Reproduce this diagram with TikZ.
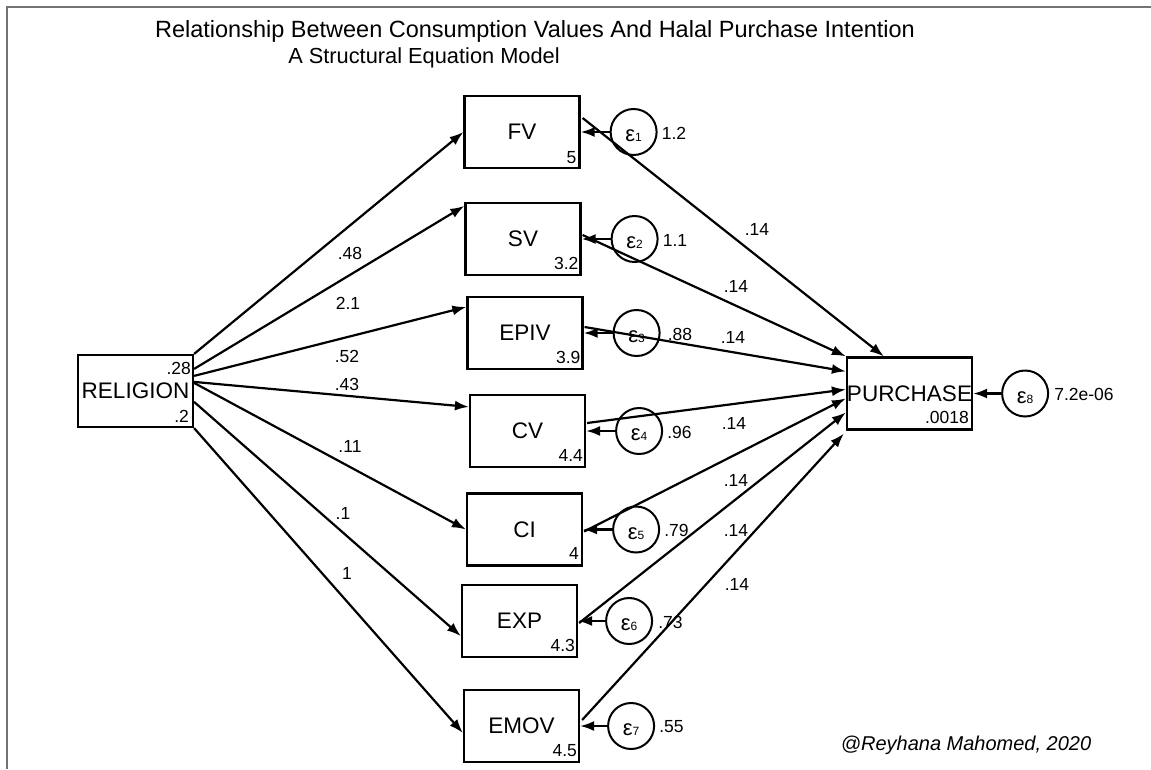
\documentclass[tikz,border=0pt]{standalone}
\usepackage{fontspec}
\setmainfont{Liberation Sans}
\usetikzlibrary{arrows.meta,calc}
\tikzset{
  box/.style={draw, line width=2.2pt, minimum width=115pt, minimum height=72pt, inner sep=0pt, font=\fontsize{22.5}{26}\selectfont},
  err/.style={draw, circle, line width=2pt, minimum size=46pt, inner sep=0pt},
  epstxt/.style={inner sep=0pt, font=\fontsize{22}{24}\selectfont},
  num/.style={inner sep=0pt, font=\fontsize{17.5}{20}\selectfont},
  arr/.style={line width=2.2pt, -{Latex[length=14pt,width=10pt]}},
  frame/.style={draw=black!55, line width=1.5pt}
}
\newcommand{\eps}[1]{ε{\fontsize{12}{12}\selectfont #1}}
\begin{document}
\begin{tikzpicture}[x=1pt,y=-1pt]
\useasboundingbox (0,0) rectangle (1151,769);
\coordinate (ftl) at (7,7);
\coordinate (ftr) at (1151,7);
\coordinate (fbl) at (7,769);
\draw[frame] (fbl) -- (ftl) -- (ftr);

% title
\node[inner sep=0pt, font=\fontsize{23.5}{26}\selectfont] (t1) at (535,31) {Relationship Between Consumption Values And Halal Purchase Intention};
\node[inner sep=0pt, font=\fontsize{21.8}{26}\selectfont] (t2) at (424,58) {A Structural Equation Model};

% boxes
\node[box] (REL) at (135.5,391) {RELIGION};
\node[box] (FV) at (522,132) {FV};
\node[box] (SV) at (523,239) {SV};
\node[box] (EPIV) at (525,333) {EPIV};
\node[box] (CV) at (527.5,431) {CV};
\node[box] (CI) at (524.5,529.5) {CI};
\node[box] (EXP) at (519.5,621) {EXP};
\node[box] (EMOV) at (521.5,726) {EMOV};
\node[box] (PUR) at (909.5,393.5) {PURCHASE};

% numbers in boxes
\node[num, anchor=base east] (RELa) at ($(REL.north east)+(-3,21)$) {.28};
\node[num, anchor=base east] (RELb) at ($(REL.south east)+(-5,-6)$) {.2};
\node[num, anchor=base east] (FVn) at ($(FV.south east)+(-4,-6)$) {5};
\node[num, anchor=base east] (SVn) at ($(SV.south east)+(-3,-7)$) {3.2};
\node[num, anchor=base east] (EPIVn) at ($(EPIV.south east)+(-3,-7)$) {3.9};
\node[num, anchor=base east] (CVn) at ($(CV.south east)+(-3,-7)$) {4.4};
\node[num, anchor=base east] (CIn) at ($(CI.south east)+(-4,-7)$) {4};
\node[num, anchor=base east] (EXPn) at ($(EXP.south east)+(-3,-7)$) {4.3};
\node[num, anchor=base east] (EMOVn) at ($(EMOV.south east)+(-3,-7)$) {4.5};
\node[num, anchor=base east] (PURn) at ($(PUR.south east)+(-4,-7)$) {.0018};

% error terms
\node[err] (e1) at ($(FV.east)+(53,0)$) {};
\node[err] (e2) at ($(SV.east)+(53,0)$) {};
\node[err] (e3) at ($(EPIV.east)+(53,0)$) {};
\node[err] (e4) at ($(CV.east)+(53,0)$) {};
\node[err] (e5) at ($(CI.east)+(53,0)$) {};
\node[err] (e6) at ($(EXP.east)+(51,0)$) {};
\node[err] (e7) at ($(EMOV.east)+(51,0)$) {};
\node[err] (e8) at ($(PUR.east)+(52,0)$) {};
\foreach \i in {1,...,8} {
  \node[epstxt] (e\i t) at ($(e\i)+(0,4)$) {\eps{\i}};
}
\node[num, anchor=west] (e1v) at ($(e1.east)+(4,1)$) {1.2};
\node[num, anchor=west] (e2v) at ($(e2.east)+(4,1)$) {1.1};
\node[num, anchor=west] (e3v) at ($(e3.east)+(7,1)$) {.88};
\node[num, anchor=west] (e4v) at ($(e4.east)+(4,1)$) {.96};
\node[num, anchor=west] (e5v) at ($(e5.east)+(4,1)$) {.79};
\node[num, anchor=west] (e6v) at ($(e6.east)+(5,1)$) {.73};
\node[num, anchor=west] (e7v) at ($(e7.east)+(4,1)$) {.55};
\node[num, anchor=west] (e8v) at ($(e8.east)+(5,1)$) {7.2e-06};

% error arrows
\foreach \e/\b in {e1/FV,e2/SV,e3/EPIV,e4/CV,e5/CI,e6/EXP,e7/EMOV,e8/PUR} {
  \draw[arr] (\e.west) -- (\b.east);
}

% religion paths
\draw[arr] (REL.north east) -- (FV.west);
\draw[arr] ($(REL.north east)+(0,15)$) -- ($(SV.north west)+(0,4)$);
\draw[arr] ($(REL.north east)+(0,22)$) -- ($(EPIV.north west)+(0,11)$);
\draw[arr] ($(REL.north east)+(0,28)$) -- ($(CV.north west)+(0,13)$);
\draw[arr] ($(REL.north east)+(0,29)$) -- (CI.west);
\draw[arr] ($(REL.north east)+(0,48)$) -- ($(EXP.south west)+(0,-22)$);
\draw[arr] (REL.south east) -- ($(EMOV.west)+(0,7)$);

% paths to purchase
\draw[arr] ($(FV.east)+(2,-14)$) -- ($(PUR.north west)+(38,0)$);
\draw[arr] ($(SV.east)+(1,-4)$) -- (PUR.north west);
\draw[arr] ($(EPIV.east)+(1,-6)$) -- ($(PUR.north west)+(0,15)$);
\draw[arr] ($(CV.east)+(1,-8)$) -- ($(PUR.north west)+(0,33)$);
\draw[arr] ($(CI.east)+(1,2)$) -- ($(PUR.north west)+(0,42)$);
\draw[arr] ($(EXP.east)+(1,2)$) -- ($(PUR.north west)+(0,56)$);
\draw[arr] ($(EMOV.east)+(2,-6)$) -- ($(PUR.south west)+(-2,3)$);

% coefficient labels
\node[num] (c1) at (350,253) {.48};
\node[num] (c2) at (348,303) {2.1};
\node[num] (c3) at (347,356) {.52};
\node[num] (c4) at (347,384) {.43};
\node[num] (c5) at (350,446) {.11};
\node[num] (c6) at (343,513) {.1};
\node[num] (c7) at (347,573) {1};
\node[num] (d1) at (757,229) {.14};
\node[num] (d2) at (736,286) {.14};
\node[num] (d3) at (733,337) {.14};
\node[num] (d4) at (734,423) {.14};
\node[num] (d5) at (736,480) {.14};
\node[num] (d6) at (736,530) {.14};
\node[num] (d7) at (737,584) {.14};

% credit
\node[inner sep=0pt, font=\fontsize{20}{22}\selectfont\itshape] (cr) at (966,745) {@Reyhana Mahomed, 2020};
\end{tikzpicture}
\end{document}
